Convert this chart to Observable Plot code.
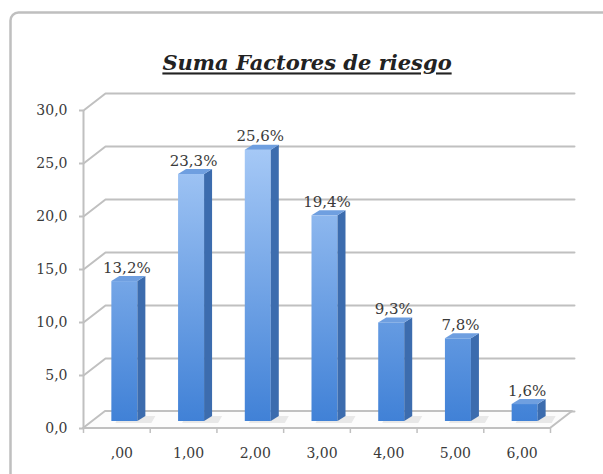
<!DOCTYPE html>
<html><head><meta charset="utf-8">
<script src="https://cdn.jsdelivr.net/npm/d3@7"></script>
<script src="https://cdn.jsdelivr.net/npm/@observablehq/plot@0.6"></script>
<style>body{margin:0;background:#fff}#chart svg{display:block}</style>
</head><body><div id="chart"></div>
<script>
const categories = [",00","1,00","2,00","3,00","4,00","5,00","6,00"];
const values = [13.2,23.3,25.6,19.4,9.3,7.8,1.6];
const valueLabels = ["13,2%","23,3%","25,6%","19,4%","9,3%","7,8%","1,6%"];
const yTicks = [0,5,10,15,20,25,30];
const yTickLabels = ["0,0","5,0","10,0","15,0","20,0","25,0","30,0"];
const chartTitle = "Suma Factores de riesgo";

const W = 603, H = 474;
const X0 = 83, X1 = 550, Y0 = 428, Y1 = 110;
const n = categories.length;
const ux = (X1 - X0) / n;   // px per x unit
const uy = (Y0 - Y1) / 30;  // px per y unit
const hx = p => p / ux;      // horizontal pixel offset -> x units
const vy = p => p / uy;      // upward pixel offset -> y units

// 3D geometry (in data units)
const wallDX = hx(22), wallDY = vy(17);
const barW = hx(26), barShiftX = hx(8), barShiftY = vy(7);
const sideDX = hx(8), sideDY = vy(5);

const bars = values.map((v, i) => {
  const x1 = i + 0.5 - barW / 2 + barShiftX;
  return {i, v, x1, x2: x1 + barW, b: barShiftY, t: v + barShiftY, label: valueLabels[i]};
});

const sideFaces = bars.flatMap(d => [
  {i: d.i, x: d.x2, y1: d.b, y2: d.t},
  {i: d.i, x: d.x2 + sideDX, y1: d.b + sideDY, y2: d.t + sideDY}
]);
const topFaces = bars.flatMap(d => [
  {i: d.i, y: d.t, x1: d.x1, x2: d.x2},
  {i: d.i, y: d.t + sideDY, x1: d.x1 + sideDX, x2: d.x2 + sideDX}
]);
const shadows = bars.flatMap(d => [
  {i: d.i, y: d.b - vy(2), x1: d.x1 + hx(4), x2: d.x2 + hx(14)},
  {i: d.i, y: d.b + sideDY, x1: d.x1 + sideDX, x2: d.x2 + sideDX + hx(10)}
]);
const floorRows = [
  {y: 0, x1: 0, x2: n},
  {y: wallDY, x1: wallDX, x2: n + wallDX}
];
const gridRows = yTicks.flatMap(t => [
  {t, x: 0, y: t},
  {t, x: wallDX, y: t + wallDY},
  {t, x: n + wallDX + hx(2), y: t + wallDY}
]);

const grey = "#c0c0c0";
const chart = Plot.plot({
  width: W, height: H,
  margin: 0,
  style: {fontFamily: "DejaVu Serif", background: "#fff", color: "#3a3a3a"},
  x: {type: "linear", domain: [0, n], range: [X0, X1], axis: null},
  y: {type: "linear", domain: [0, 30], range: [Y0, Y1], axis: null},
  marks: [
    Plot.frame({insetLeft: 10, insetTop: 12, insetRight: -12, insetBottom: -12, rx: 8, stroke: "#bfbfbf", strokeWidth: 2.5}),
    Plot.line(gridRows, {x: "x", y: "y", z: "t", stroke: grey, strokeWidth: 2}),
    Plot.areaX(floorRows, {y: "y", x1: "x1", x2: "x2", fill: "#fcfcfc", stroke: grey, strokeWidth: 2}),
    Plot.areaX(shadows, {y: "y", x1: "x1", x2: "x2", z: "i", fill: "#e2e2e2", fillOpacity: 0.8}),
    Plot.ruleX([0], {y1: 0, y2: 30, stroke: grey, strokeWidth: 2}),
    Plot.ruleY(yTicks, {y: d => d, x1: 0, x2: hx(-4), stroke: grey, strokeWidth: 2}),
    Plot.ruleX(d3.range(n + 1), {x: d => d, y1: 0, y2: vy(-5), stroke: grey, strokeWidth: 1.5}),
    Plot.rect(bars, {x1: "x1", x2: "x2", y1: "b", y2: "t", fill: "url(#barGrad)"}),
    Plot.areaY(sideFaces, {x: "x", y1: "y1", y2: "y2", z: "i", fill: "#3c6cae"}),
    Plot.areaX(topFaces, {y: "y", x1: "x1", x2: "x2", z: "i", fill: "#6f9fe0"}),
    Plot.text(bars, {x: d => (d.x1 + d.x2) / 2 + hx(2), y: d => d.t + sideDY, text: "label", lineAnchor: "bottom", dy: -4, fontSize: 15, fill: "#3a3a3a"}),
    Plot.text(yTicks, {x: 0, y: d => d, text: (d, i) => yTickLabels[i], textAnchor: "end", dx: -16, fontSize: 14, fill: "#3a3a3a"}),
    Plot.text(categories, {x: (d, i) => i + 0.5, y: 0, text: d => d, dx: 5, dy: 25, fontSize: 14, fill: "#3a3a3a"}),
    Plot.text([chartTitle], {frameAnchor: "top", dx: 5, dy: 55, text: d => d, fontSize: 21, fontWeight: "bold", fontStyle: "italic", fill: "#222"})
  ]
});

const svg = d3.select(chart);
const defs = svg.insert("defs", ":first-child");
const g = defs.append("linearGradient").attr("id", "barGrad")
  .attr("gradientUnits", "userSpaceOnUse").attr("x1", 0).attr("y1", 140).attr("x2", 0).attr("y2", 425);
g.append("stop").attr("offset", "0").attr("stop-color", "#a9cbf7");
g.append("stop").attr("offset", "1").attr("stop-color", "#3f80d6");
svg.selectAll("text").filter(function() { return this.textContent === chartTitle; })
  .style("text-decoration", "underline");
document.getElementById("chart").appendChild(chart);
</script>
</body></html>
